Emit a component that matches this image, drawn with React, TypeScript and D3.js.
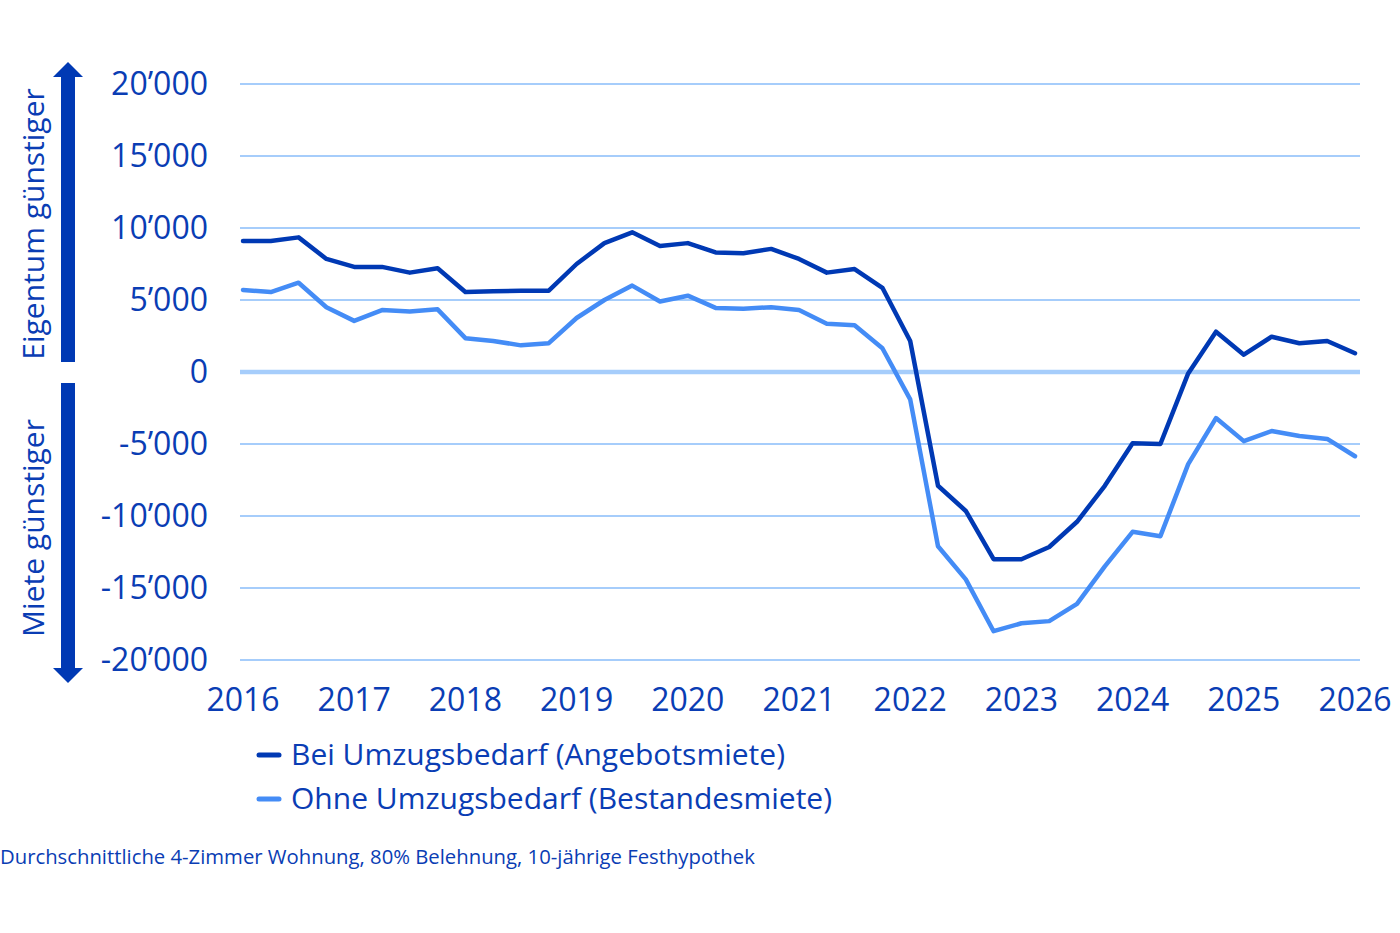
import { useEffect, useRef } from 'react';
import * as d3 from 'd3';

// quarterly observations, 2016 Q1 .. 2026 Q1
const dates = [
    2016, 2016.25, 2016.5, 2016.75, 2017, 2017.25, 2017.5, 2017.75,
    2018, 2018.25, 2018.5, 2018.75, 2019, 2019.25, 2019.5, 2019.75,
    2020, 2020.25, 2020.5, 2020.75, 2021, 2021.25, 2021.5, 2021.75,
    2022, 2022.25, 2022.5, 2022.75, 2023, 2023.25, 2023.5, 2023.75,
    2024, 2024.25, 2024.5, 2024.75, 2025, 2025.25, 2025.5, 2025.75, 2026,
];

const angebotsmiete = [
    9100, 9100, 9350, 7850, 7300, 7300, 6900, 7200,
    5550, 5600, 5650, 5650, 7500, 8950, 9700, 8750,
    8950, 8300, 8250, 8550, 7850, 6900, 7150, 5850,
    2150, -7900, -9650, -13000, -13000, -12150, -10400, -7900,
    -4950, -5000, -100, 2800, 1200, 2450, 2000, 2150, 1300,
];

const bestandesmiete = [
    5700, 5550, 6200, 4500, 3550, 4300, 4200, 4350,
    2350, 2150, 1850, 2000, 3750, 5000, 6000, 4900,
    5300, 4450, 4400, 4500, 4300, 3350, 3250, 1650,
    -1900, -12100, -14400, -18000, -17450, -17300, -16100, -13500,
    -11100, -11400, -6400, -3200, -4800, -4100, -4450, -4650, -5850,
];

const yTicks = [20000, 15000, 10000, 5000, 0, -5000, -10000, -15000, -20000];
const xTicks = [2016, 2017, 2018, 2019, 2020, 2021, 2022, 2023, 2024, 2025, 2026];

const seriesNames = ['Bei Umzugsbedarf (Angebotsmiete)', 'Ohne Umzugsbedarf (Bestandesmiete)'];
const footnote = 'Durchschnittliche 4-Zimmer Wohnung, 80% Belehnung, 10-jährige Festhypothek';
const upLabel = 'Eigentum günstiger';
const downLabel = 'Miete günstiger';

const DARK = '#0039b4';
const LIGHT = '#448cf6';
const GRID = '#a6cdfb';
const TEXT = '#0a3db4';
const FONT = '"Open Sans", "Noto Sans", sans-serif';

function App() {
    const svgRef = useRef<SVGSVGElement>(null);

    useEffect(() => {
        if (!svgRef.current) return;
        const svg = d3.select(svgRef.current);
        svg.selectAll('*').remove();

        const x = d3.scaleLinear().domain([2016, 2026]).range([243, 1355]);
        const y = d3.scaleLinear().domain([-20000, 20000]).range([660, 84]);

        // grid
        svg.append('g')
            .selectAll('line')
            .data(yTicks)
            .join('line')
            .attr('x1', 240)
            .attr('x2', 1360)
            .attr('y1', d => y(d))
            .attr('y2', d => y(d))
            .attr('stroke', GRID)
            .attr('stroke-width', d => d === 0 ? 4.5 : 2);

        // y tick labels
        const fmt = (v: number) => d3.format(',')(v).replace(/,/g, '’').replace('−', '-');
        svg.append('g')
            .selectAll('text')
            .data(yTicks)
            .join('text')
            .attr('x', 208)
            .attr('y', d => y(d) + 11)
            .attr('text-anchor', 'end')
            .attr('font-size', 32)
            .attr('fill', TEXT)
            .text(d => fmt(d));

        // x tick labels
        svg.append('g')
            .selectAll('text')
            .data(xTicks)
            .join('text')
            .attr('x', d => x(d))
            .attr('y', 711)
            .attr('text-anchor', 'middle')
            .attr('font-size', 32)
            .attr('fill', TEXT)
            .text(d => String(d));

        // lines
        const line = d3.line<number>()
            .x((_, i) => x(dates[i]))
            .y(d => y(d));

        [[bestandesmiete, LIGHT], [angebotsmiete, DARK]].forEach(([vals, color]) => {
            svg.append('path')
                .datum(vals as number[])
                .attr('d', line)
                .attr('fill', 'none')
                .attr('stroke', color as string)
                .attr('stroke-width', 4.5)
                .attr('stroke-linejoin', 'round')
                .attr('stroke-linecap', 'round');
        });

        // arrows on the left
        const ax = 68;
        svg.append('rect').attr('x', ax - 7).attr('y', 76).attr('width', 14).attr('height', 286).attr('fill', DARK);
        svg.append('path').attr('d', `M${ax - 15},77 L${ax},62 L${ax + 15},77 Z`).attr('fill', DARK);
        svg.append('rect').attr('x', ax - 7).attr('y', 383).attr('width', 14).attr('height', 286).attr('fill', DARK);
        svg.append('path').attr('d', `M${ax - 15},668 L${ax},683 L${ax + 15},668 Z`).attr('fill', DARK);

        svg.append('text')
            .attr('transform', `translate(44,${224}) rotate(-90)`)
            .attr('text-anchor', 'middle')
            .attr('font-size', 30)
            .attr('fill', TEXT)
            .text(upLabel);
        svg.append('text')
            .attr('transform', `translate(44,${528}) rotate(-90)`)
            .attr('text-anchor', 'middle')
            .attr('font-size', 30)
            .attr('fill', TEXT)
            .text(downLabel);

        // legend
        const legend = svg.append('g');
        [DARK, LIGHT].forEach((c, i) => {
            const ly = 755 + i * 44;
            legend.append('line')
                .attr('x1', 259).attr('x2', 279)
                .attr('y1', ly).attr('y2', ly)
                .attr('stroke', c)
                .attr('stroke-width', 5)
                .attr('stroke-linecap', 'round');
            legend.append('text')
                .attr('x', 291)
                .attr('y', ly + 10)
                .attr('font-size', 30)
                .attr('fill', TEXT)
                .text(seriesNames[i]);
        });

        svg.append('text')
            .attr('x', 0)
            .attr('y', 864)
            .attr('font-size', 20.3)
            .attr('fill', TEXT)
            .text(footnote);
    }, []);

    return (
        <svg ref={svgRef} width={1400} height={933}
            style={{ position: 'absolute', left: 0, top: 0, fontFamily: FONT, background: '#fff' }} />
    );
}

export default App;
